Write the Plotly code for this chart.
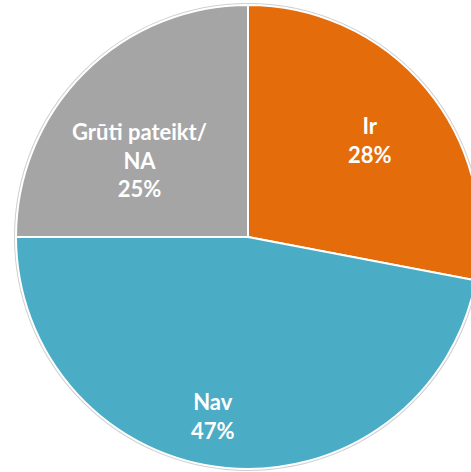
import plotly.graph_objects as go

labels = ["Ir", "Nav", "Grūti pateikt/<br>NA"]
values = [28, 47, 25]
colors = ["#E46C0A", "#4BACC6", "#A5A5A5"]

W, H = 500, 472
cx, cy, r = 248, 237, 232

fig = go.Figure(go.Pie(
    labels=labels,
    values=values,
    sort=False,
    direction="clockwise",
    rotation=0,
    marker=dict(colors=colors, line=dict(color="white", width=2)),
    textinfo="none",
    hoverinfo="label+percent",
    showlegend=False,
    domain=dict(x=[(cx - r) / W, (cx + r) / W], y=[(H - cy - r) / H, (H - cy + r) / H]),
))

# label placement (pixel centres of each data label block)
label_pos = [(370, 140), (213, 416), (139, 160)]
total = sum(values)
for lab, val, (px, py) in zip(labels, values, label_pos):
    fig.add_annotation(
        x=px / W, y=1 - py / H, xref="paper", yref="paper",
        text=f"<b>{lab}<br>{round(100 * val / total)}%</b>",
        showarrow=False, xanchor="center", yanchor="middle",
        font=dict(family="Lato", size=22, color="white"),
        align="center",
    )

fig.add_shape(
    type="circle", xref="paper", yref="paper",
    x0=(cx - r - 1) / W, x1=(cx + r + 1) / W,
    y0=(H - cy - r - 1) / H, y1=(H - cy + r + 1) / H,
    line=dict(color="#D0D0D0", width=2), layer="below",
)

fig.update_layout(
    width=W, height=H,
    margin=dict(l=0, r=0, t=0, b=0),
    paper_bgcolor="white",
    plot_bgcolor="white",
)

fig.write_html(
    "out.html",
    config={"displayModeBar": False},
    post_script="document.body.style.margin='0';document.body.style.overflow='hidden';",
)
